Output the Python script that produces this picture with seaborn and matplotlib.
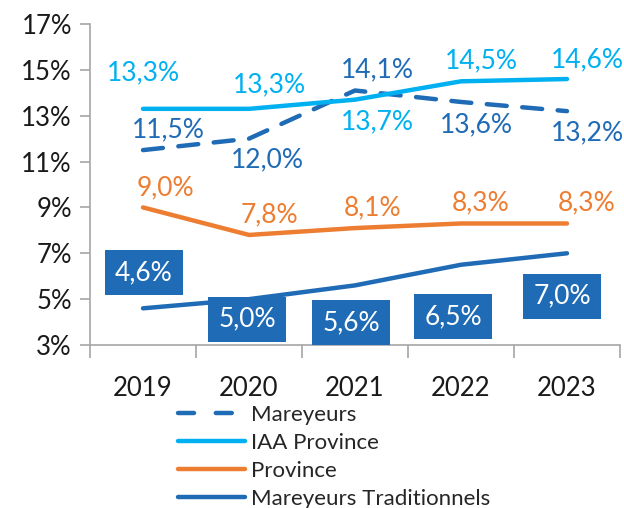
import matplotlib
matplotlib.use("Agg")
import matplotlib.pyplot as plt
import seaborn as sns
import pandas as pd
from matplotlib.ticker import FixedLocator
from matplotlib.lines import Line2D

years = ["2019", "2020", "2021", "2022", "2023"]
mareyeurs = [11.5, 12.0, 14.1, 13.6, 13.2]
iaa_province = [13.3, 13.3, 13.7, 14.5, 14.6]
province = [9.0, 7.8, 8.1, 8.3, 8.3]
mareyeurs_trad = [4.6, 5.0, 5.6, 6.5, 7.0]
series_names = ["Mareyeurs", "IAA Province", "Province", "Mareyeurs Traditionnels"]
y_ticks = [3, 5, 7, 9, 11, 13, 15, 17]

colors = {
    "Mareyeurs": "#1F6BB5",
    "IAA Province": "#00B0F0",
    "Province": "#ED7D31",
    "Mareyeurs Traditionnels": "#1F6BB5",
}

sns.set_theme(style="white")
plt.rcParams["font.family"] = ["Lato", "DejaVu Sans"]

fig = plt.figure(figsize=(6.24, 5.08), dpi=100)
ax = fig.add_axes([90/624, 1-345/508, 530/624, 321/508])

x = list(range(len(years)))
rows = []
for name, vals in zip(series_names, [mareyeurs, iaa_province, province, mareyeurs_trad]):
    for i, v in enumerate(vals):
        rows.append({"x": i, "val": v, "serie": name})
df = pd.DataFrame(rows)

sns.lineplot(data=df, x="x", y="val", hue="serie", palette=colors,
             hue_order=series_names, ax=ax, linewidth=3.2, legend=False)
lines = ax.get_lines()
for ln in lines:
    ln.set_solid_capstyle("round")
lines[0].set_linestyle((0, (4.5, 3.5)))
lines[0].set_dash_capstyle("round")

def fmt(v):
    return f"{v:.1f}%".replace(".", ",")

fs = 19
# offsets in pixels (dx, dy)
off_iaa = [(0, 36), (20, 24), (22, -22), (20, 21), (20, 19)]
off_mar = [(25, 20), (18, -21), (22, 21), (15, -23), (20, -22)]
off_prov = [(22, 20), (20, 20), (18, 20), (20, 21), (20, 21)]
off_trad = [(1, 36), (-2, -20), (-4, -37), (-8, -52), (-5, -43)]

px2pt = 72 / 100
for vals, offs, col in [(iaa_province, off_iaa, "#00B0F0"),
                        (mareyeurs, off_mar, "#1F6BB5"),
                        (province, off_prov, "#ED7D31")]:
    for i, v in enumerate(vals):
        dx, dy = offs[i]
        ax.annotate(fmt(v), (i, v), xytext=(dx*px2pt, dy*px2pt), textcoords="offset points",
                    ha="center", va="center", fontsize=fs, color=col, annotation_clip=False)
for i, v in enumerate(mareyeurs_trad):
    dx, dy = off_trad[i]
    ax.annotate(fmt(v), (i, v), xytext=(dx*px2pt, dy*px2pt), textcoords="offset points",
                ha="center", va="center", fontsize=fs, color="white", annotation_clip=False,
                bbox=dict(boxstyle="square,pad=0.38", fc="#1F6BB5", ec="none"))

ax.set_xlim(-0.5, 4.5)
ax.set_ylim(3, 17)
ax.set_yticks(y_ticks)
ax.set_yticklabels([f"{t}%" for t in y_ticks])
ax.set_xticks(x)
ax.set_xticklabels(years)
ax.xaxis.set_minor_locator(FixedLocator([-0.5, 0.5, 1.5, 2.5, 3.5, 4.5]))
ax.tick_params(axis="x", which="major", length=0, pad=22, labelsize=18.5, labelcolor="#1a1a1a")
ax.tick_params(axis="x", which="minor", length=9, width=1.2, color="#A6A6A6", direction="out", bottom=True)
ax.tick_params(axis="y", which="major", length=7, width=1.2, color="#A6A6A6", direction="out",
               left=True, labelsize=18.5, labelcolor="#1a1a1a", pad=6)
ax.set_xlabel("")
ax.set_ylabel("")
for s in ["top", "right"]:
    ax.spines[s].set_visible(False)
for s in ["left", "bottom"]:
    ax.spines[s].set_color("#A6A6A6")
    ax.spines[s].set_linewidth(1.2)

handles = [
    Line2D([], [], color="#1F6BB5", lw=3.2, linestyle=(0, (3.6, 4.9)), dash_capstyle="round"),
    Line2D([], [], color="#00B0F0", lw=3.2, solid_capstyle="round"),
    Line2D([], [], color="#ED7D31", lw=3.2, solid_capstyle="round"),
    Line2D([], [], color="#1F6BB5", lw=3.2, solid_capstyle="round"),
]
fig.legend(handles, series_names, loc="upper left", bbox_to_anchor=(178/624, 1-405/508),
           frameon=False, fontsize=16, handlelength=3.0, handletextpad=0.3,
           labelspacing=0.36, borderpad=0, borderaxespad=0)

fig.savefig("out.png", dpi=100)
